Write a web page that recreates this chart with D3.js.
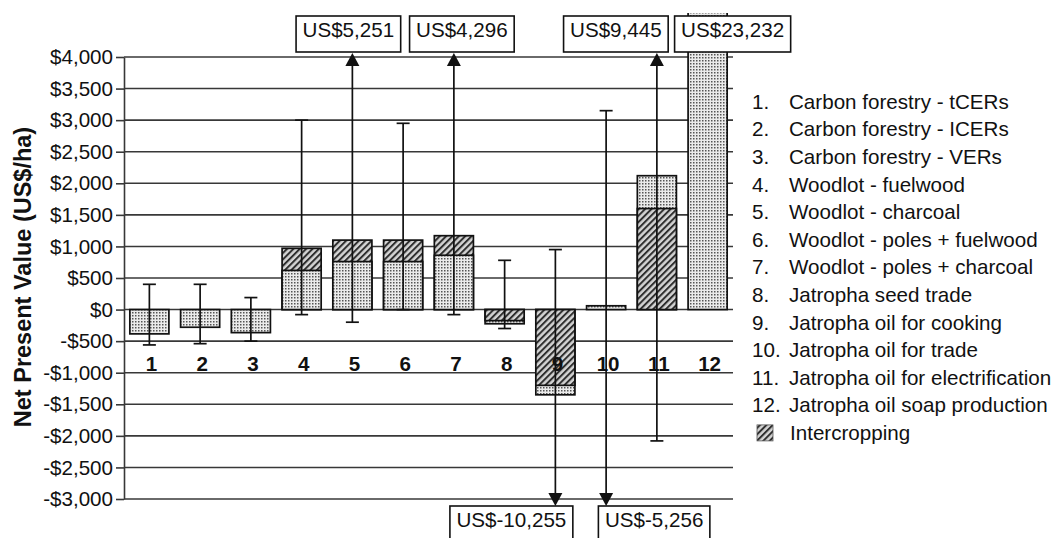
<!DOCTYPE html>
<html>
<head>
<meta charset="utf-8">
<script src="https://cdn.jsdelivr.net/npm/d3@7"></script>
<style>
  body { margin: 0; background: #fff; }
  svg { display: block; font-family: "Liberation Sans", Arial, sans-serif; }
</style>
</head>
<body>
<svg class="chart"></svg>
<script>
// ---- data ----
const categories = ["1", "2", "3", "4", "5", "6", "7", "8", "9", "10", "11", "12"];
const legendLabels = [
  "Carbon forestry - tCERs",
  "Carbon forestry - ICERs",
  "Carbon forestry - VERs",
  "Woodlot - fuelwood",
  "Woodlot - charcoal",
  "Woodlot - poles + fuelwood",
  "Woodlot - poles + charcoal",
  "Jatropha seed trade",
  "Jatropha oil for cooking",
  "Jatropha oil for trade",
  "Jatropha oil for electrification",
  "Jatropha oil soap production"
];
// NPV without intercropping (stippled) and with intercropping (hatched)
const baseValues = [-385, -280, -365, 620, 760, 760, 860, -225, -1350, 60, 2120, 23232];
const intercropValues = [null, null, null, 970, 1100, 1100, 1170, -175, -1200, null, 1600, null];
// error ranges
const errLow = [-560, -540, -500, -80, -200, 0, -80, -300, -10255, -5256, -2080, null];
const errHigh = [400, 400, 190, 3000, 5251, 2950, 4296, 780, 950, 3150, 9445, null];
const yTicks = [-3000, -2500, -2000, -1500, -1000, -500, 0, 500, 1000, 1500, 2000, 2500, 3000, 3500, 4000];

// ---- layout ----
const width = 1055, height = 538;
const plot = { left: 124, right: 733, top: 57, bottom: 499 };
const fs = 20.6;
// horizontal shift of each off-scale label box relative to its bar
const boxShift = { "5": -4, "7": 8, "11": -41, "12": 25, "9": -44, "10": 48 };

const svg = d3.select(".chart").attr("width", width).attr("height", height);

const defs = svg.append("defs");
const stip = defs.append("pattern").attr("id", "stipple")
  .attr("patternUnits", "userSpaceOnUse").attr("width", 3).attr("height", 3);
stip.append("rect").attr("width", 3).attr("height", 3).attr("fill", "#ebebeb");
stip.append("rect").attr("width", 1.5).attr("height", 1.5).attr("fill", "#555");

const hatch = defs.append("pattern").attr("id", "hatch")
  .attr("patternUnits", "userSpaceOnUse").attr("width", 4.5).attr("height", 4.5)
  .attr("patternTransform", "rotate(45)");
hatch.append("rect").attr("width", 4.5).attr("height", 4.5).attr("fill", "#d4d4d4");
hatch.append("rect").attr("width", 2).attr("height", 4.5).attr("fill", "#2e2e2e");

defs.append("clipPath").attr("id", "barclip")
  .append("rect").attr("x", 0).attr("y", 13).attr("width", width).attr("height", height);

const x = d3.scaleBand().domain(categories).range([plot.left, plot.right])
  .paddingInner(0.23).paddingOuter(0.115);
const y = d3.scaleLinear().domain([-3000, 4000]).range([plot.bottom, plot.top]);

const money = d3.format(",");
const fmtTick = v => (v < 0 ? "-" : "") + "$" + money(Math.abs(v));
const fmtBox = v => "US$" + (v < 0 ? "-" : "") + money(Math.abs(v));

// gridlines
svg.append("g").selectAll("line").data(yTicks).join("line")
  .attr("x1", plot.left).attr("x2", plot.right)
  .attr("y1", d => y(d)).attr("y2", d => y(d))
  .attr("stroke", "#383838").attr("stroke-width", 1.6);

// bars: draw larger magnitude first, smaller in front
const rows = categories.map((c, i) => ({ c, i, base: baseValues[i], inter: intercropValues[i] }));
const barLayer = svg.append("g").attr("clip-path", "url(#barclip)");
rows.forEach(r => {
  const parts = [{ v: r.base, fill: "url(#stipple)" }];
  if (r.inter !== null) parts.push({ v: r.inter, fill: "url(#hatch)" });
  parts.sort((a, b) => Math.abs(b.v) - Math.abs(a.v));
  parts.forEach(p => {
    barLayer.append("rect")
      .attr("x", x(r.c)).attr("width", x.bandwidth())
      .attr("y", Math.min(y(p.v), y(0)))
      .attr("height", Math.abs(y(p.v) - y(0)))
      .attr("fill", p.fill).attr("stroke", "#111").attr("stroke-width", 1.7);
  });
});

// error bars and arrows
const arrowTop = 53, arrowBottom = 506, capW = 13, headW = 7, headH = 13;
const errG = svg.append("g").attr("stroke", "#111").attr("stroke-width", 1.7);
categories.forEach((c, i) => {
  if (errLow[i] === null) return;
  const cx = x(c) + x.bandwidth() / 2;
  const lo = errLow[i], hi = errHigh[i];
  const yHi = hi > 4000 ? arrowTop + headH : y(hi);
  const yLo = lo < -3000 ? arrowBottom - headH : y(lo);
  errG.append("line").attr("x1", cx).attr("x2", cx).attr("y1", yHi).attr("y2", yLo);
  if (hi > 4000) {
    errG.append("path").attr("fill", "#111").attr("stroke", "none")
      .attr("d", `M${cx},${arrowTop}L${cx - headW},${arrowTop + headH}L${cx + headW},${arrowTop + headH}Z`);
  } else {
    errG.append("line").attr("x1", cx - capW / 2).attr("x2", cx + capW / 2).attr("y1", yHi).attr("y2", yHi);
  }
  if (lo < -3000) {
    errG.append("path").attr("fill", "#111").attr("stroke", "none")
      .attr("d", `M${cx},${arrowBottom}L${cx - headW},${arrowBottom - headH}L${cx + headW},${arrowBottom - headH}Z`);
  } else {
    errG.append("line").attr("x1", cx - capW / 2).attr("x2", cx + capW / 2).attr("y1", yLo).attr("y2", yLo);
  }
});

// off-scale value boxes
const offScale = [];
categories.forEach((c, i) => {
  const top = errHigh[i] !== null && errHigh[i] > 4000 ? errHigh[i] : (baseValues[i] > 4000 ? baseValues[i] : null);
  if (top !== null) offScale.push({ c, v: top, up: true });
  if (errLow[i] !== null && errLow[i] < -3000) offScale.push({ c, v: errLow[i], up: false });
});
const boxG = svg.append("g");
offScale.forEach(d => {
  const label = fmtBox(d.v);
  const t = boxG.append("text").attr("font-size", fs).attr("fill", "#111").text(label);
  const tw = t.node().getComputedTextLength();
  const bw = tw + 13, bh = 36;
  const cx = x(d.c) + x.bandwidth() / 2 + (boxShift[d.c] || 0);
  const bx = cx - bw / 2;
  const by = d.up ? 16 : 506;
  boxG.insert("rect", "text").attr("x", bx).attr("y", by).attr("width", bw).attr("height", bh)
    .attr("fill", "#fff").attr("stroke", "#111").attr("stroke-width", 1.6);
  t.attr("x", bx + 6.5).attr("y", by + 20.5);
});

// y axis
const yAxis = d3.axisLeft(y).tickValues(yTicks).tickFormat(fmtTick)
  .tickSizeInner(8).tickSizeOuter(0).tickPadding(3);
const ax = svg.append("g").attr("transform", `translate(${plot.left},0)`).call(yAxis);
ax.selectAll("text").attr("font-size", fs).attr("fill", "#111")
  .attr("font-family", "'Liberation Sans', Arial, sans-serif");
ax.selectAll("line, path").attr("stroke", "#383838").attr("stroke-width", 1.6);

// category labels
svg.append("g").selectAll("text").data(categories).join("text")
  .attr("x", d => x(d) + x.bandwidth() / 2 + 2)
  .attr("y", y(0) + 61)
  .attr("text-anchor", "middle").attr("font-size", fs).attr("font-weight", "bold")
  .attr("fill", "#111").text(d => d);

// y title
svg.append("text")
  .attr("transform", `translate(31,277) rotate(-90)`)
  .attr("text-anchor", "middle").attr("font-size", 23.5).attr("font-weight", "bold")
  .attr("fill", "#111").text("Net Present Value (US$/ha)");

// legend
const legend = svg.append("g").attr("font-size", fs).attr("fill", "#111");
const legendRow = i => 101.7 + i * 27.6 + 7;
legendLabels.forEach((lab, i) => {
  legend.append("text").attr("x", 752).attr("y", legendRow(i)).text((i + 1) + ".");
  legend.append("text").attr("x", 789).attr("y", legendRow(i)).text(lab);
});
legend.append("rect").attr("x", 757).attr("y", legendRow(12) - 7 - 8).attr("width", 16).attr("height", 16)
  .attr("fill", "url(#hatch)").attr("stroke", "#555").attr("stroke-width", 0.8);
legend.append("text").attr("x", 790).attr("y", legendRow(12)).text("Intercropping");
</script>
</body>
</html>
